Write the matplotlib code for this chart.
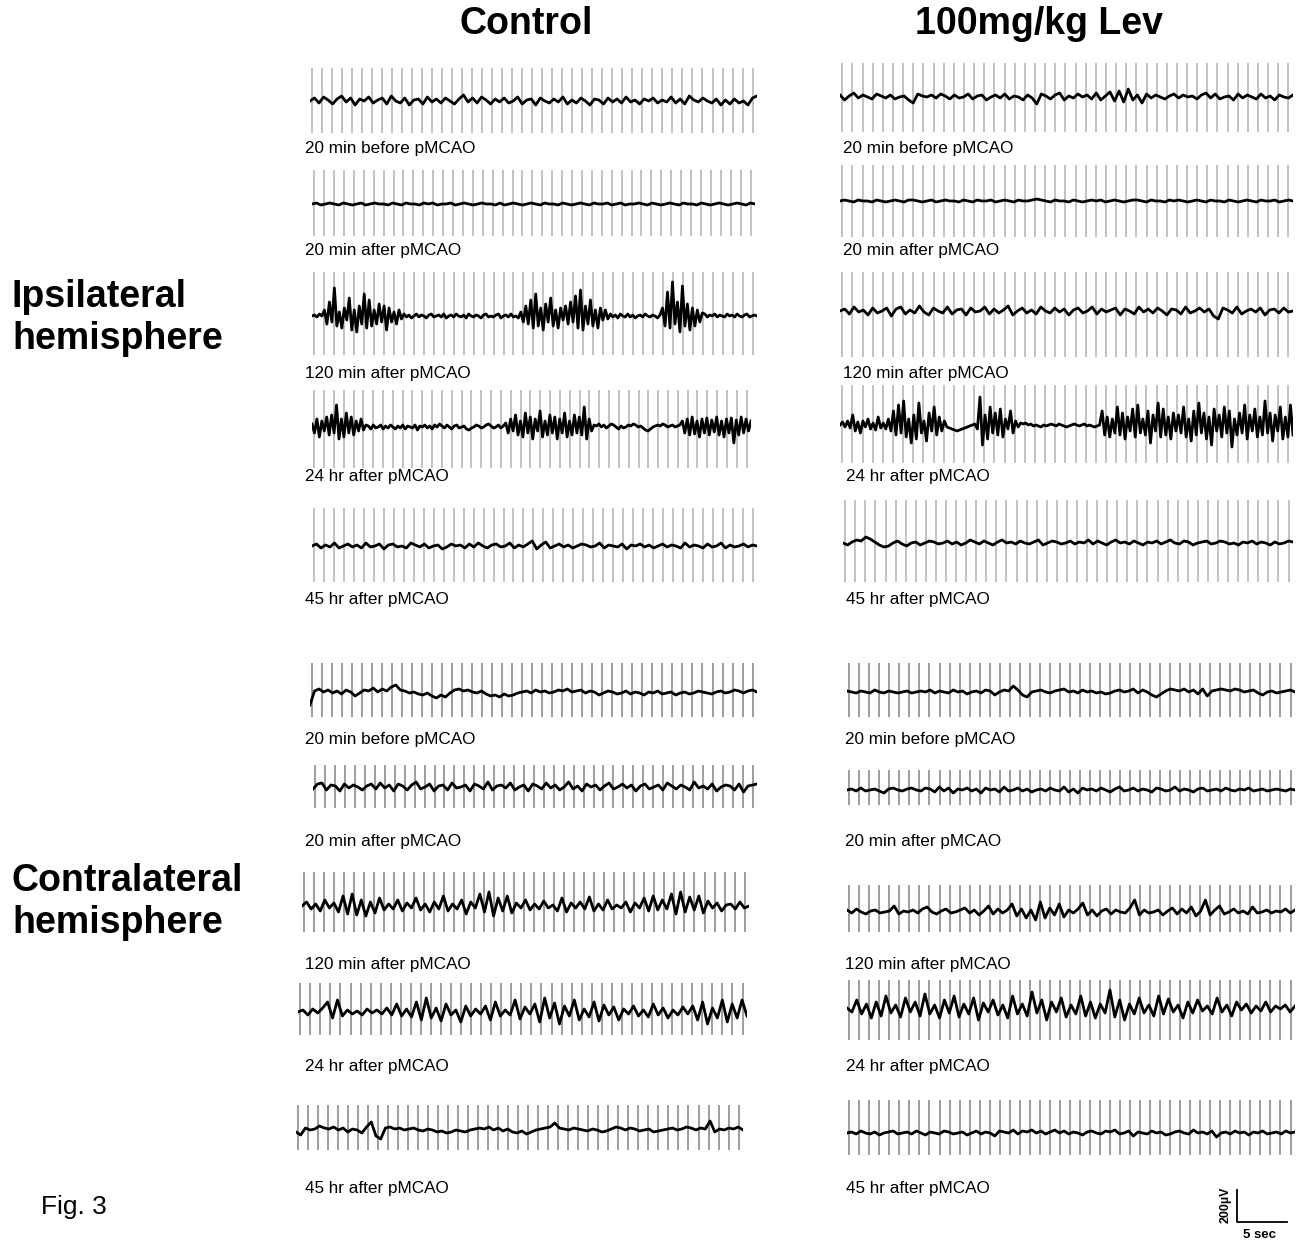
import matplotlib
matplotlib.use("Agg")
import matplotlib.pyplot as plt
import numpy as np

plt.rcParams["font.family"] = ["Liberation Sans", "DejaVu Sans"]

W, H = 1299, 1243  # output size in pixels

# ---- data: EEG deflections (approx. pixels) ----
time_labels = ["20 min before pMCAO", "20 min after pMCAO", "120 min after pMCAO",
               "24 hr after pMCAO", "45 hr after pMCAO"]
group_titles = ["Control", "100mg/kg Lev"]
hemi_titles = ["Ipsilateral\nhemisphere", "Contralateral\nhemisphere"]
n_marks = 45  # vertical time markers per trace

ctrl_ipsi_20before = [0, 3, -2, 4, 1, -3, 2, 5, -1, 3, -4, 2, 0, 4, -2, 1, 3, -3, 5, 0, -2, 3, -4, 1, 2, -3, 4, -1, 2, -2,
                      3, 0, -3, 2, 6, -1, 3, -2, 4, 1, -3, 2, -1, 3, -2, 0, 4, -3, 1, 2, -4, 3, 0, -2, 2, -1, 4, -3, 1, -2,
                      3, 0, -4, 2, 1, -3, 3, -1, 2, -2, 4, -1, 1, -3, 2, 0, 3, -2, 1, -1, 4, -2, 2, -3, 5, 1, -1, 3, 0, -2,
                      2, -4, 1, -3, 2, -2, 0, -4, 3, 5]
ctrl_ipsi_20after = [0, 1, -1, 0, 1, 0, -1, 1, 0, -1, 0, 1, -1, 0, 1, 0, 0, -1, 1, 0, -1, 1, 0, 0, -1, 1, 0, 1, -1, 0,
                     0, 1, -1, 0, 1, 0, -1, 0, 1, 0, 0, -1, 1, -1, 0, 1, 0, -1, 0, 1, 0, -1, 1, 0, 0, -1, 1, 0, -1, 0,
                     1, 0, -1, 1, 0, 0, 1, -1, 0, 1, -1, 0, 0, 1, 0, -1, 1, 0, -1, 0, 1, 0, -1, 1, 0, 0, -1, 1, 0, -1,
                     0, 1, 0, -1, 0, 1, 0, -1, 1, 0]
ctrl_ipsi_120after = [0, 1, -1, 2, 0,
                      6, -8, 14, -6, 28, -10, 4, -12, 8, -4, 18, -14, 6, -16, 10, -8, 22, -12, 16, -10, 6, -8, 12, -6,
                      10, -14, 8, -6, 4, -8, 6, -3,
                      2, -1, 1, -2, 0, 2, -1, 1, 0, -2, 1, 2, -1, 0, 1, -1, 2, -2, 0, 1, -1, 2, 0, -1, 1, -2, 2, 0, -1,
                      1, 0, -2, 1, 2, -1, 0, -1, 1, 2, -2, 0, 1, -1, 2, -1, 0, -2,
                      4, -6, 10, -8, 16, -12, 22, -10, 8, -14, 12, -6, 18, -10, 6, -12, 8, -4, 10, -8, 14, -6, 20, -12,
                      26, -14, 10, -8, 16, -10, 6, -12, 8, -4, 6, -3,
                      2, -1, 1, -2, 2, 0, -1, 2, -1, 1, -2, 0, 1, -1, 2, 0, -1, 1, 0, -2, 1,
                      8, -10, 24, -12, 34, -8, 14, -16, 30, -10, 12, -14, 8, -10, 6, -6, 3,
                      2, -1, 1, 0, 2, -1, 1, 0, -1, 2, 0, 1, -1, 2, 0, -1, 1, 2, -1, 0, 1, 0]
ctrl_ipsi_24h = [3, -6, 8, -10, 6, -4, 10, -8, 12, -6, 22, -12, 8, -10, 14, -6, 10, -8, 6, -4, 8, -3, 2,
                 1, -2, 2, -1, 0, 2, -2, 1, -1, 2, 0, -2, 1, -1, 2, -2, 1, 0, -1, 2, -3, 1, 0, 2, -1, 1, -2, 2, 0, 3,
                 1, -1, 2, 0, -2, 1, 2, -1, 0, 1, -2, -3, -1, 0, 2, 1, -1, 0, 2, 3, 1, -1, 0, 2, -1, 1,
                 4, -6, 8, -4, 12, -8, 6, -10, 14, -6, 10, -12, 8, -4, 16, -10, 6, -8, 12, -6, 10, -12, 8, -6, 14,
                 -10, 6, -8, 12, -6, 10, -8, 20, -12, 8, -4,
                 2, 1, 3, 0, 2, -1, 1, 3, 2, 0, -2, 1, -1, 0, 2, 1, 3, 2, 0, 1, -1, -3, -4, -2, 0, 1, 2, 1, 3, 2,
                 0, 1, 2, 0, 1, 2,
                 6, -6, 8, -8, 10, -7, 6, -10, 8, -6, 9, -8, 7, -5, 10, -8, 6, -10, 8, -6, 9, -16, 7, -8, 10, -6,
                 8, -4, 6]
ctrl_ipsi_45h = [0, 2, -2, 1, -1, 3, -2, 0, 2, -1, 1, -2, 3, -1, 0, 2, -3, 1, 2, -1, 0, -2, 3, 1, -1, 2, -2, 0, 1, -3,
                 -1, 2, 0, 1, -2, 2, -1, 3, 0, -2, 1, 2, -1, 0, 3, -2, 1, -1, 2, 5, -3, 1, 4, -2, 0, 2, -1, 1, -2, 0,
                 2, 1, -1, 0, 3, -2, 1, 0, -1, 2, -3, 1, 0, 2, -1, 1, -2, 0, 2, -1, 1, 0, -2, 3, -1, 1, 0, -2, 2, -1,
                 0, 3, -2, 1, -1, 0, 2, -1, 1, 0]

ctrl_contra_20before = [-12, 2, 4, 1, 3, 0, 2, -1, 3, 1, -3, 0, 3, 2, 5, 1, 4, 2, 6, 8, 3, 2, 0, 1, -1, -2, 0, -3, -5, -2,
                        -4, 0, 3, 4, 2, 3, 1, 0, 2, -1, -3, -2, -4, -1, -3, -2, 0, 1, 2, 0, 3, 1, 2, 0, 1, 3, 2, 4, 1, 2,
                        3, 0, 2, 1, -2, 0, 2, 1, -1, 0, 2, -1, 1, 0, -2, 1, 0, 2, -1, 0, 1, -2, 0, 1, -1, 0, 2, 1, 0, -1,
                        1, 2, 0, 1, 3, 2, 0, 2, 3, 1]
ctrl_contra_20after = [-2, 3, 4, -3, 2, 1, -4, 3, -1, 2, 0, -3, 1, 3, -2, 4, -1, 2, -4, 3, 1, -3, 2, 5, -2, 0, 3, -4, 1, 2,
                       -3, 4, -1, 0, 2, -4, 3, 1, -2, 5, -3, 1, 2, -1, 4, -3, 0, 2, -4, 3, 1, -2, 4, -1, 2, -3, 0, 5, -2, 1,
                       -4, 3, 0, 2, -3, 1, 4, -2, 0, 3, -1, 2, -4, 1, 3, -2, 0, 2, -3, 4, 1, -2, 2, 0, -3, 5, -1, 1, -2, 3,
                       -4, 0, 2, 1, -3, 3, -5, 1, 2, 3]
ctrl_contra_120after = [0, 4, -3, 2, -5, 6, -2, 3, -6, 10, -8, 12, -9, 6, -10, 4, -7, 8, -4, 2, -3, 6, -5, 3, -2, 8, -4, 2,
                        -6, 4, -3, 10, -5, 2, -3, 6, -8, 4, -2, 12, -6, 14, -10, 8, -5, 10, -7, 3, -2, 6, -4, 2, -3, 5,
                        -2, 1, -5, 8, -6, 3, -2, 4, -3, 9, -5, 2, -4, 6, -3, 1, -2, 4, -6, 3, -2, 8, -5, 10, -4, 6, -3,
                        12, -8, 14, -6, 9, -4, 10, -7, 5, -2, 3, -5, 1, 2, -3, 4, -2, 0]
ctrl_contra_24h = [0, 2, -3, 3, -1, 4, 10, -6, 12, -4, 2, -2, 1, -3, 3, -1, 2, -2, 4, -3, 8, -4, 3, -5, 10, -8, 14, -6, 4,
                   -9, 8, -3, 2, -10, 6, -4, 3, -2, 6, -8, 10, -4, 2, -3, 12, -7, 5, -2, 8, -10, 14, -6, 9, -12, 6, -4,
                   12, -8, 3, -5, 10, -9, 7, -3, 5, -8, 3, -2, 6, -4, 2, -5, 8, -3, 4, -6, 2, -3, 5, -2, 6, -8, 10, -12,
                   4, -6, 12, -10, 8, -6, 12, -4]
ctrl_contra_45h = [-2, -5, 2, 0, 1, 4, 2, 1, 3, 0, 2, -2, 1, 0, -3, 3, 8, -6, -9, 2, 3, 1, 2, 0, 1, 2, 0, -1, 1, 0, -2, -1,
                   -3, -2, 0, -1, -2, 0, 1, 2, 1, 3, 0, 2, -1, 1, -2, -3, -1, -4, -2, 0, 1, 2, 3, 7, 2, 1, 0, 2, 1, 0, -1,
                   1, 0, -2, -1, 1, 3, 2, 0, 2, 1, -1, 0, 1, -2, -1, 0, 1, 2, 0, 1, 3, 2, 0, 2, 1, 9, -2, 1, 0, 2, 1, 3, 0]

lev_ipsi_20before = [2, -3, 1, 4, -1, 2, 0, -2, 3, 1, -1, 2, -2, 0, 1, -3, -6, 3, 1, 0, 2, -1, 3, 1, -2, 2, -1, 0, 3, -2,
                     1, 2, -3, 0, 2, -1, 3, -2, 1, 0, -3, 2, -1, -7, 3, 1, -2, 2, 4, -3, 1, -1, 3, 0, 2, -2, 4, -3, 1, 5,
                     -4, 6, -5, 8, -3, 2, -6, 3, -1, 2, 0, -2, 1, 3, -1, 2, 0, 1, -2, 2, 4, -1, 3, -2, 0, 1, -3, 3, -1, 2,
                     0, -2, 3, -1, 1, -3, 2, 0, -1, 2]
lev_ipsi_20after = [0, 1, 0, -1, 1, 0, 0, -1, 1, 0, -1, 0, 1, 0, -1, 1, 1, 0, -1, 0, 1, -1, 0, 1, 0, 0, -1, 1, 0, -1,
                    1, 0, 0, 1, -1, 0, 1, 0, -1, 1, 0, 0, 1, 2, 1, 0, -1, 1, 0, 0, -1, 1, 0, -1, 0, 1, 0, 1, -1, 0,
                    1, 0, -1, 0, 1, 1, 0, -1, 1, 0, 0, -1, 1, 0, 1, 0, -1, 0, 1, 0, -1, 1, 0, 0, -1, 1, 0, -1, 0, 1,
                    0, -1, 1, 0, 0, 1, -1, 0, 1, 0]
lev_ipsi_120after = [0, 2, -3, 4, -1, 1, -4, 3, -2, 0, 3, -5, 2, 4, -3, 1, -2, 5, -1, -4, 3, 0, -2, 4, -3, 1, 2, -4, 3, -1,
                     0, 4, -3, 2, -2, 1, 5, -4, 0, 3, -2, 1, -3, 4, 0, -2, 3, -1, 2, -4, 1, 3, -2, 0, 4, -3, 2, -1, 1, 3,
                     -4, 2, 0, -3, 4, -1, 2, -2, 3, 0, -4, 2, 1, -3, 4, -2, 0, 3, -1, 2, -5, -8, 3, 1, -2, 4, -3, 0, 2, -1,
                     3, -4, 1, 2, -2, 3, -1, 0]
lev_ipsi_24h = [0, 3, -2, 4, -3, 10, -6, 3, -8, 4, -2, 6, -4, 2, -5, 8, -3, 2, -4, 6,
                -6, 14, -10, 20, -8, 24, -12, 6, -18, 10, -14, 22, -8, 4, -16, 12, -6, 18, -10, 8, -6, 4,
                -2, -3, -4, -5, -6, -5, -4, -3, -2, -1, 0, 1,
                -4, 28, -20, 10, -14, 18, -8, 12, -10, 16, -12, 6, -4, 14, -8, 4, -2,
                2, 1, 2, 0, 1, -1, 0, -1, -2, 0, -1, 0, 1, 0, -1, 1, 0, -1, -2, -1, 0, 1, 0, -1, 0, 1, -1, 0,
                -1, -2, -1, 0,
                14, -10, 8, -12, 6, -8, 18, -10, 12, -14, 8, -6, 16, -12, 20, -8, 6, -10, 14, -18, 10, -6, 22, -12,
                16, -10, 8, -14, 12, -6, 10, -8, 18, -12, 6, -16, 14, -10, 22, -8, 12, -14, 8, -20, 16, -6, 10, -12,
                18, -8, 14, -22, 6, -10, 12, -8, 20, -14, 10, -6, 16, -12, 8, -10, 24, -8, 12, -16, 10, -6, 18, -14,
                8, -12, 20, -10]
lev_ipsi_45h = [0, -2, 1, 3, 2, 6, 4, 1, -2, -4, -3, 0, 2, -1, -3, 0, 1, -2, 0, 2, 1, -1, 0, 2, -1, 1, -2, 0, 3, 1,
                -1, 2, 0, -2, 1, 3, 0, 1, -1, 2, 0, -1, 1, 3, -2, 0, 2, 1, -1, 0, 2, -1, 1, 0, 3, -1, 2, 0, -2, 1,
                3, 0, 1, -1, 2, 0, -2, 1, 0, 2, -1, 1, 3, 0, -1, 2, 1, -2, 0, 1, 2, -1, 0, 2, 1, -1, 0, -2, 1, 0,
                2, -1, 1, 0, -2, 1, -1, 0, 2, 1]

lev_contra_20before = [1, 0, -1, 1, 0, -1, 2, 0, -1, 1, 0, -1, 0, 1, -1, 0, 1, 0, 2, -1, 1, 0, -1, 2, 0, 1, -2, 0, 1, -1,
                       2, 1, -3, 0, 2, 1, 6, 2, -3, -5, 0, 1, 2, 0, -1, 1, 2, 3, 0, 1, -1, 2, 0, 1, -1, 0, -2, -1, 1, 2,
                       0, 1, 3, -1, 2, 0, -3, -5, -2, 1, 3, 2, 1, 3, 0, 2, -2, 3, -4, 1, 2, 3, 2, 1, 3, 2, 0, 1, 2, -1,
                       -3, 0, 1, -1, 0, 1, 2, 0]
lev_contra_20after = [0, 1, -1, 2, -1, 0, 1, -1, -3, 1, 2, 0, -1, 1, 2, 0, -1, 2, 1, -2, 3, -1, 2, -3, 1, 0, 2, -1, 1, -3,
                      2, 0, 1, -2, 3, -1, 0, 2, -1, 1, -2, 0, 1, -1, 2, 0, -1, 3, -2, 1, -3, 2, 0, 1, -1, 2, 0, -2, 1, 3,
                      -1, 0, 2, -1, 1, 0, -2, 2, 1, -1, 0, 3, -1, 1, 0, -2, 1, 2, -1, 0, 1, -1, 2, 0, -1, 1, 0, 2, -1, 0,
                      1, -1, 0, 1, 0, -1, 1, 0]
lev_contra_120after = [2, -1, 3, 0, -2, 1, 2, -1, 0, 1, 6, -2, 1, 0, 2, -1, 3, 5, 0, -2, 1, 3, -1, 0, 2, 4, -1, 2, -3, 1,
                       6, -2, 3, -1, 2, 8, -4, 3, -6, 2, -8, 10, -6, 4, -3, 8, -5, 2, -1, 3, 9, -3, 2, -4, 1, 3, -2, 2,
                       0, -1, 4, 12, -3, 2, -1, 0, 2, -3, 1, 4, -2, 3, -1, 5, -4, 1, 12, -3, 2, 6, -2, 0, 3, -1, 1, -2,
                       5, -1, 0, 2, -1, 1, 0, 3, -1, 2]
lev_contra_24h = [0, -4, 8, -6, 4, -10, 6, -8, 12, -5, 3, -9, 10, -4, 6, -8, 14, -6, 3, -10, 8, -5, 12, -9, 4, -6, 10,
                  -12, 5, -4, 8, -7, 3, -10, 12, -6, 4, -8, 16, -5, 8, -12, 6, -4, 10, -9, 3, -6, 12, -8, 6, -10, 4,
                  -5, 18, -9, 8, -12, 4, -6, 10, -5, 3, -8, 12, -6, 9, -4, 3, -10, 6, -5, 8, -3, 2, -6, 10, -4, 3, -8,
                  6, -2, 4, -5, 2, -3, 6, -4, 2, -1, 3, -4, 2]
lev_contra_45h = [0, 1, -1, 2, 0, -1, 1, -2, 0, 1, 2, -1, 0, 1, -1, 2, 0, -2, 1, 0, -1, 2, 1, -1, 0, 1, -2, 0, 2, -1,
                  1, 0, -3, 2, 1, 0, 3, -1, 2, 1, 3, 0, 2, -1, 1, 3, 0, 2, -1, 1, 0, -2, 1, 2, 0, -1, 2, 1, 3, -1,
                  0, 2, -3, 1, 0, -1, 2, 0, 1, -2, -1, 1, 2, 0, -1, 3, 0, 1, -1, 2, -4, 0, 1, -1, 2, 0, 1, -2, 1, 0,
                  2, -1, 0, 1, -1, 2, 0, 1]

ctrl_traces = [ctrl_ipsi_20before, ctrl_ipsi_20after, ctrl_ipsi_120after, ctrl_ipsi_24h, ctrl_ipsi_45h,
               ctrl_contra_20before, ctrl_contra_20after, ctrl_contra_120after, ctrl_contra_24h, ctrl_contra_45h]
lev_traces = [lev_ipsi_20before, lev_ipsi_20after, lev_ipsi_120after, lev_ipsi_24h, lev_ipsi_45h,
              lev_contra_20before, lev_contra_20after, lev_contra_120after, lev_contra_24h, lev_contra_45h]

# ---- layout (pixels): x0, x1, top, bottom, baseline, label x, label y ----
ctrl_boxes = [(310, 757, 68, 133, 101, 305, 148), (312, 755, 170, 236, 204, 305, 250),
              (312, 757, 272, 355, 316, 305, 373), (312, 751, 390, 468, 427, 305, 476),
              (312, 757, 508, 582, 546, 305, 599), (310, 757, 663, 717, 693, 305, 739),
              (313, 757, 765, 808, 787, 305, 841), (302, 749, 872, 932, 906, 305, 964),
              (298, 747, 983, 1035, 1012, 305, 1067), (296, 743, 1105, 1150, 1130, 305, 1189)]
lev_boxes = [(840, 1293, 63, 132, 97, 843, 148), (840, 1293, 165, 237, 201, 843, 250),
             (840, 1293, 272, 357, 311, 843, 373), (840, 1293, 385, 463, 425, 846, 476),
             (843, 1293, 500, 582, 543, 846, 599), (847, 1295, 663, 717, 692, 845, 739),
             (847, 1295, 770, 805, 790, 845, 841), (847, 1295, 885, 932, 912, 845, 964),
             (847, 1295, 980, 1040, 1008, 846, 1067), (847, 1295, 1100, 1155, 1133, 846, 1189)]

fig = plt.figure(figsize=(W / 100, H / 100), dpi=100)
bg = fig.add_axes([0, 0, 1, 1])
bg.set_xlim(0, W)
bg.set_ylim(H, 0)
bg.axis("off")

for traces, boxes in [(ctrl_traces, ctrl_boxes), (lev_traces, lev_boxes)]:
    for i, (vals, box) in enumerate(zip(traces, boxes)):
        x0, x1, top, bot, base, lx, ly = box
        ax = fig.add_axes([x0 / W, 1 - bot / H, (x1 - x0) / W, (bot - top) / H])
        n = len(vals)
        t = np.arange(n)
        if i < 5:
            mark_col, mark_lw = "#c2c2c2", 1.4
        else:
            mark_col, mark_lw = "#8c8c8c", 1.2  # contralateral markers are darker
        ax.vlines(np.linspace(0.005 * n, 0.99 * (n - 1), n_marks), -(bot - base), base - top,
                  color=mark_col, lw=mark_lw, zorder=1)
        ax.plot(t, vals, color="black", lw=2.0, zorder=2, solid_joinstyle="round")
        ax.set_xlim(0, n - 1)
        ax.set_ylim(-(bot - base), base - top)
        ax.axis("off")
        bg.text(lx, ly, time_labels[i % 5], fontsize=12.3, ha="left", va="center")

# column / row headings
bg.text(526, 24, group_titles[0], fontsize=27, fontweight="bold", ha="center", va="center")
bg.text(1039, 24, group_titles[1], fontsize=27, fontweight="bold", ha="center", va="center")
bg.text(12, 318, hemi_titles[0], fontsize=27, fontweight="bold", ha="left", va="center", linespacing=1.2)
bg.text(12, 902, hemi_titles[1], fontsize=27, fontweight="bold", ha="left", va="center", linespacing=1.2)
bg.text(41, 1207, "Fig. 3", fontsize=19, ha="left", va="center")

# scale bar: 200 µV / 5 sec
bg.plot([1237, 1237, 1287], [1190, 1222, 1222], color="black", lw=1.3)
bg.text(1226, 1205, "200µV", fontsize=9, fontweight="bold", rotation=90, ha="center", va="center")
bg.text(1260, 1235, "5 sec", fontsize=9.5, fontweight="bold", ha="center", va="center")

fig.savefig("out.png", dpi=100)
